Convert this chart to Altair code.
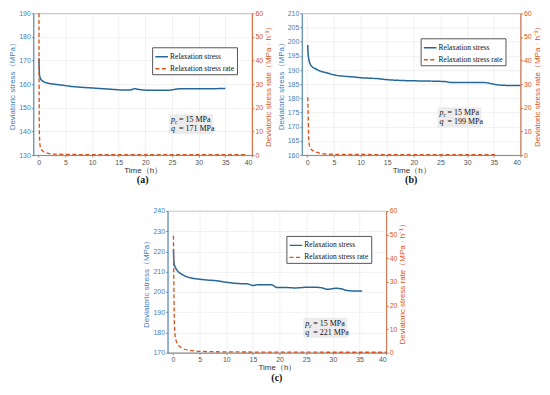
import altair as alt
import pandas as pd

# ---------------- data ----------------
# panel (a)
a_ts = [0.05, 0.1, 0.2, 0.35, 0.6, 1.0, 1.5, 2.0, 3.0, 4.0, 5.0, 6.0, 8.0, 10.0, 12.0, 14.0, 16.0, 17.0, 17.5, 18.0, 18.5, 19.0, 20.0, 22.0, 24.0, 25.0, 26.0, 28.0, 30.0, 32.0, 35.0]
a_s = [171.0, 166.0, 163.3, 162.3, 161.6, 161.0, 160.6, 160.3, 160.0, 159.7, 159.4, 159.1, 158.7, 158.4, 158.1, 157.8, 157.5, 157.5, 157.8, 158.1, 157.9, 157.7, 157.5, 157.4, 157.4, 157.6, 158.0, 158.1, 158.1, 158.1, 158.2]
a_tr = [0.05, 0.08, 0.15, 0.3, 0.5, 0.8, 1.2, 1.5, 2.0, 3.0, 5.0, 10.0, 20.0, 30.0, 39.0]
a_r = [60.0, 30.0, 8.0, 3.5, 2.4, 1.6, 1.1, 0.9, 0.6, 0.4, 0.3, 0.2, 0.2, 0.2, 0.2]

# panel (b)
b_ts = [0.1, 0.15, 0.25, 0.4, 0.6, 0.8, 1.0, 1.5, 2.0, 2.5, 3.5, 5.0, 6.0, 7.0, 8.5, 10.0, 12.0, 13.0, 15.0, 18.0, 20.0, 23.0, 25.0, 26.0, 27.0, 30.0, 33.0, 34.0, 35.0, 37.0, 40.0]
b_s = [198.8, 196.5, 194.5, 193.0, 192.0, 191.4, 191.0, 190.5, 190.0, 189.6, 189.1, 188.3, 188.0, 187.8, 187.6, 187.3, 187.1, 187.0, 186.6, 186.3, 186.2, 186.1, 186.0, 185.9, 185.6, 185.6, 185.6, 185.4, 185.0, 184.6, 184.5]
b_tr = [0.1, 0.2, 0.3, 0.45, 0.6, 0.9, 1.2, 1.6, 2.2, 3.4, 5.0, 10.0, 20.0, 30.0, 35.5]
b_r = [24.5, 16.0, 6.0, 3.8, 2.8, 2.1, 1.7, 1.3, 0.9, 0.45, 0.35, 0.25, 0.2, 0.2, 0.2]

# panel (c)
c_ts = [0.1, 0.15, 0.25, 0.4, 0.7, 1.0, 1.5, 2.0, 3.0, 4.0, 5.0, 6.0, 8.0, 10.0, 12.0, 14.0, 15.0, 16.0, 18.5, 19.5, 21.0, 23.0, 25.0, 27.0, 28.0, 29.0, 30.5, 31.5, 32.5, 34.0, 35.5]
c_s = [221.0, 216.5, 213.8, 212.5, 211.0, 210.0, 209.0, 208.2, 207.2, 206.6, 206.3, 206.0, 205.6, 204.8, 204.2, 204.0, 203.2, 203.6, 203.6, 202.2, 202.2, 202.0, 202.3, 202.3, 202.0, 201.3, 201.8, 201.6, 200.8, 200.5, 200.5]
c_tr = [0.1, 0.15, 0.25, 0.4, 0.6, 0.9, 1.5, 2.0, 3.0, 4.0, 5.0, 10.0, 20.0, 30.0, 40.0]
c_r = [49.5, 35.0, 15.0, 7.5, 5.0, 3.5, 2.2, 1.6, 1.1, 0.8, 0.6, 0.35, 0.25, 0.2, 0.2]

series_names = ["Relaxation stress", "Relaxation stress rate"]
x_ticks = [0, 5, 10, 15, 20, 25, 30, 35, 40]
rate_ticks = [0, 10, 20, 30, 40, 50, 60]
a_yticks = [130, 140, 150, 160, 170, 180, 190]
b_yticks = [160, 165, 170, 175, 180, 185, 190, 195, 200, 205, 210]
c_yticks = [170, 180, 190, 200, 210, 220, 230, 240]
captions = ["(a)", "(b)", "(c)"]
q_values = [171, 199, 221]
pc_value = 15

BLUE = "#26679a"
BLUE_AX = "#3f80b8"
ORANGE = "#d95319"
SANS = "Liberation Sans"
SERIF = "Liberation Serif"

W, H = 219, 142


def panel(ts, s, tr, r, yticks, caption, q, leg_y, by):
    d_s = pd.DataFrame({"t": ts, "v": s, "series": series_names[0]})
    d_r = pd.DataFrame({"t": tr, "v": r, "series": series_names[1]})
    xenc = alt.X("t:Q", scale=alt.Scale(domain=[-1, 40], nice=False),
                 axis=alt.Axis(values=x_ticks, title="Time（h）", grid=True))
    color = alt.Color("series:N", scale=alt.Scale(domain=series_names, range=[BLUE, ORANGE]),
                      legend=alt.Legend(title=None, orient="none", legendX=119, legendY=leg_y,
                                        symbolType="stroke", symbolSize=160, symbolStrokeWidth=1.4,
                                        labelFont=SERIF, labelFontSize=7.5, labelColor="#111",
                                        fillColor="white", strokeColor="#555", padding=2,
                                        rowPadding=1, symbolOffset=0, labelOffset=1, offset=0))
    dash = alt.StrokeDash("series:N", scale=alt.Scale(domain=series_names, range=[[1, 0], [4, 2.5]]),
                          legend=None)
    stress = alt.Chart(d_s).mark_line(strokeWidth=1.5, interpolate="monotone").encode(
        x=xenc,
        y=alt.Y("v:Q", scale=alt.Scale(domain=[yticks[0], yticks[-1]], nice=False, zero=False),
                axis=alt.Axis(values=yticks, title="Deviatoric stress（MPa）", orient="left",
                              labelColor=BLUE_AX, titleColor=BLUE_AX, domainColor=BLUE_AX,
                              tickColor=BLUE_AX, grid=True)),
        color=color, strokeDash=dash)
    rate = alt.Chart(d_r).mark_line(strokeWidth=1.3, interpolate="monotone").encode(
        x=xenc,
        y=alt.Y("v:Q", scale=alt.Scale(domain=[0, 60], nice=False),
                axis=alt.Axis(values=rate_ticks, title="Deviatoric stress rate（MPa · h⁻¹）", orient="right",
                              labelColor=ORANGE, titleColor=ORANGE, domainColor=ORANGE,
                              tickColor=ORANGE, grid=False, titleAngle=270, titleBaseline="top")),
        color=color, strokeDash=dash)
    ann = pd.DataFrame({"k": [0]})
    bx = 138
    box = alt.Chart(ann).mark_rect(color="#ececec").encode(
        x=alt.value(bx - 2), x2=alt.value(bx + 42), y=alt.value(by - 8), y2=alt.value(by + 12))
    tp = alt.Chart(ann).mark_text(font=SERIF, fontStyle="italic", fontSize=8, align="left", color="#111").encode(
        x=alt.value(bx), y=alt.value(by - 2), text=alt.value("p"))
    tc = alt.Chart(ann).mark_text(font=SERIF, fontStyle="italic", fontSize=5.5, align="left", color="#111").encode(
        x=alt.value(bx + 4), y=alt.value(by), text=alt.value("c"))
    t1 = alt.Chart(ann).mark_text(font=SERIF, fontSize=8, align="left", color="#111").encode(
        x=alt.value(bx + 8), y=alt.value(by - 2), text=alt.value(f"= {pc_value} MPa"))
    tq = alt.Chart(ann).mark_text(font=SERIF, fontStyle="italic", fontSize=8, align="left", color="#111").encode(
        x=alt.value(bx), y=alt.value(by + 7), text=alt.value("q"))
    t2 = alt.Chart(ann).mark_text(font=SERIF, fontSize=8, align="left", color="#111").encode(
        x=alt.value(bx + 8), y=alt.value(by + 7), text=alt.value(f"= {q} MPa"))
    return alt.layer(stress, rate, box, tp, tc, t1, tq, t2).resolve_scale(y="independent").properties(
        width=W, height=H,
        title=alt.TitleParams(caption, orient="bottom", font=SERIF, fontWeight="bold", fontSize=10,
                              color="#111", frame="group", offset=1))


pa = panel(a_ts, a_s, a_tr, a_r, a_yticks, captions[0], q_values[0], 34, 109)
pb = panel(b_ts, b_s, b_tr, b_r, b_yticks, captions[1], q_values[1], 25, 102)
pc = panel(c_ts, c_s, c_tr, c_r, c_yticks, captions[2], q_values[2], 25, 115)

top = alt.hconcat(pa, pb, spacing=2).resolve_scale(color="independent", strokeDash="independent")
chart = alt.vconcat(top, pc, spacing=20, center=True).resolve_scale(
    color="independent", strokeDash="independent").properties(
    padding={"left": 0, "top": 0, "right": 0, "bottom": 0}, background="white"
).configure_axis(
    labelFont=SANS, labelFontSize=7, titleFont=SANS, titleFontSize=8, titleFontWeight="normal",
    gridColor="#e8e8e8", gridWidth=0.6, tickSize=2, labelPadding=1, titlePadding=2,
    domainWidth=0.8, tickWidth=0.8
).configure_axisX(
    labelColor="#555", titleColor="#333", domainColor="#777", tickColor="#777", titlePadding=1
).configure_view(stroke="#999", strokeWidth=0.8)

chart.save("out.html", embed_options={"renderer": "svg", "actions": False})
